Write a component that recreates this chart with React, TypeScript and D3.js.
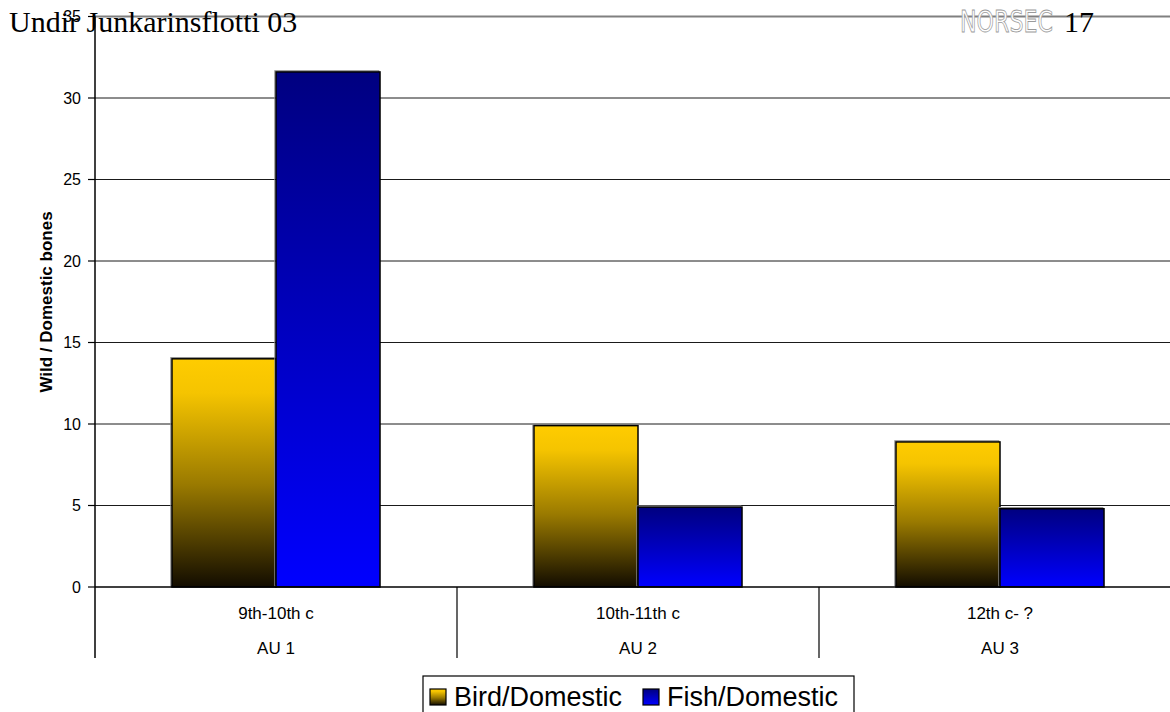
import React from "react";
import * as d3 from "d3";

// Ratio of wild to domestic bones per archaeological unit
const periods = ["9th-10th c", "10th-11th c", "12th c- ?"];
const units = ["AU 1", "AU 2", "AU 3"];
const seriesNames = ["Bird/Domestic", "Fish/Domestic"];
const birdRatio = [14.0, 9.9, 8.9];
const fishRatio = [31.6, 4.9, 4.8];
const yTicks = [0, 5, 10, 15, 20, 25, 30, 35];

const W = 1170;
const H = 712;
const plotLeft = 95;
const plotRight = 1181;
const zeroY = 587;
const topY = 16.5;

export default function App() {
  const x = d3.scaleBand<string>().domain(units).range([plotLeft, plotRight]);
  const inner = d3
    .scaleBand<string>()
    .domain(seriesNames)
    .range([0, x.bandwidth()])
    .paddingInner(0)
    .paddingOuter(0.74);
  const y = d3.scaleLinear().domain([0, 35]).range([zeroY, topY]);

  const series = [
    { name: seriesNames[0], values: birdRatio, fill: "url(#gradBird)" },
    { name: seriesNames[1], values: fishRatio, fill: "url(#gradFish)" },
  ];

  const axisFont = "Arial, 'Liberation Sans', sans-serif";

  return (
    <svg
      width={W}
      height={H}
      style={{ position: "absolute", left: 0, top: 0, background: "#fff" }}
    >
      <defs>
        <linearGradient id="gradBird" x1="0" y1="0" x2="0" y2="1">
          <stop offset="0" stopColor="#ffcc00" />
          <stop offset="0.15" stopColor="#f5c400" />
          <stop offset="0.55" stopColor="#9a7a00" />
          <stop offset="1" stopColor="#120c00" />
        </linearGradient>
        <linearGradient id="gradFish" x1="0" y1="0" x2="0" y2="1">
          <stop offset="0" stopColor="#000080" />
          <stop offset="1" stopColor="#0000ff" />
        </linearGradient>
      </defs>

      {/* gridlines and y ticks */}
      {yTicks.map((t) => (
        <g key={t}>
          {t > 0 && (
            <line
              x1={plotLeft}
              x2={W}
              y1={y(t)}
              y2={y(t)}
              stroke={t === 35 ? "#808080" : "#1a1a1a"}
              strokeWidth={t === 35 ? 2 : 1}
            />
          )}
          <line x1={88} x2={plotLeft} y1={y(t)} y2={y(t)} stroke="#000" strokeWidth={1.2} />
          <text
            x={81}
            y={y(t)}
            dy="0.36em"
            textAnchor="end"
            fontFamily={axisFont}
            fontSize={16}
            fill="#000"
          >
            {t}
          </text>
        </g>
      ))}

      {/* bars */}
      {series.map((s) =>
        units.map((u, i) => {
          const bx = (x(u) as number) + (inner(s.name) as number);
          const bw = inner.bandwidth();
          const by = y(s.values[i]);
          const bh = zeroY - by;
          return (
            <g key={s.name + u}>
              <rect
                x={bx - 1.2}
                y={by - 1.2}
                width={bw}
                height={bh}
                fill="none"
                stroke="#8a8a8a"
                strokeWidth={1}
              />
              <rect
                x={bx}
                y={by}
                width={bw}
                height={bh}
                fill={s.fill}
                stroke="#000"
                strokeWidth={1.5}
              />
            </g>
          );
        })
      )}

      {/* axes */}
      <line x1={plotLeft} x2={plotLeft} y1={topY} y2={658} stroke="#000" strokeWidth={1.5} />
      <line x1={plotLeft} x2={W} y1={zeroY} y2={zeroY} stroke="#000" strokeWidth={1.5} />
      {units.slice(1).map((u) => (
        <line
          key={u}
          x1={x(u)}
          x2={x(u)}
          y1={zeroY}
          y2={658}
          stroke="#000"
          strokeWidth={1.2}
        />
      ))}
      {units.map((u, i) => {
        const cx = (x(u) as number) + x.bandwidth() / 2;
        return (
          <g key={u} fontFamily={axisFont} fontSize={17} textAnchor="middle" fill="#000">
            <text x={cx} y={619}>
              {periods[i]}
            </text>
            <text x={cx} y={654}>
              {u}
            </text>
          </g>
        );
      })}

      {/* y axis title */}
      <text
        transform={`translate(52, ${302}) rotate(-90)`}
        textAnchor="middle"
        fontFamily={axisFont}
        fontWeight="bold"
        fontSize={17}
        fill="#000"
      >
        Wild / Domestic bones
      </text>

      {/* legend */}
      <rect x={423} y={676} width={431} height={50} fill="#fff" stroke="#000" strokeWidth={1.2} />
      {series.map((s, i) => {
        const lx = i === 0 ? 430 : 643;
        return (
          <g key={s.name}>
            <rect x={lx} y={689} width={16} height={16} fill={s.fill} stroke="#000" strokeWidth={1.2} />
            <text x={lx + 24} y={706} fontFamily={axisFont} fontSize={27} fill="#000">
              {s.name}
            </text>
          </g>
        );
      })}

      {/* page header */}
      <text x={9} y={32} fontFamily="'Liberation Serif', 'Times New Roman', serif" fontSize={30} fill="#000">
        Undir Junkarinsflotti 03
      </text>
      <text
        x={960}
        y={32}
        fontFamily="'Liberation Sans Narrow', 'DejaVu Sans Condensed', sans-serif"
        fontSize={31}
        textLength={93}
        lengthAdjust="spacingAndGlyphs"
        fill="#fff"
        stroke="#9a9a9a"
        strokeWidth={0.8}
      >
        NORSEC
      </text>
      <text x={1064} y={32} fontFamily="'Liberation Serif', 'Times New Roman', serif" fontSize={30} fill="#000">
        17
      </text>
    </svg>
  );
}
